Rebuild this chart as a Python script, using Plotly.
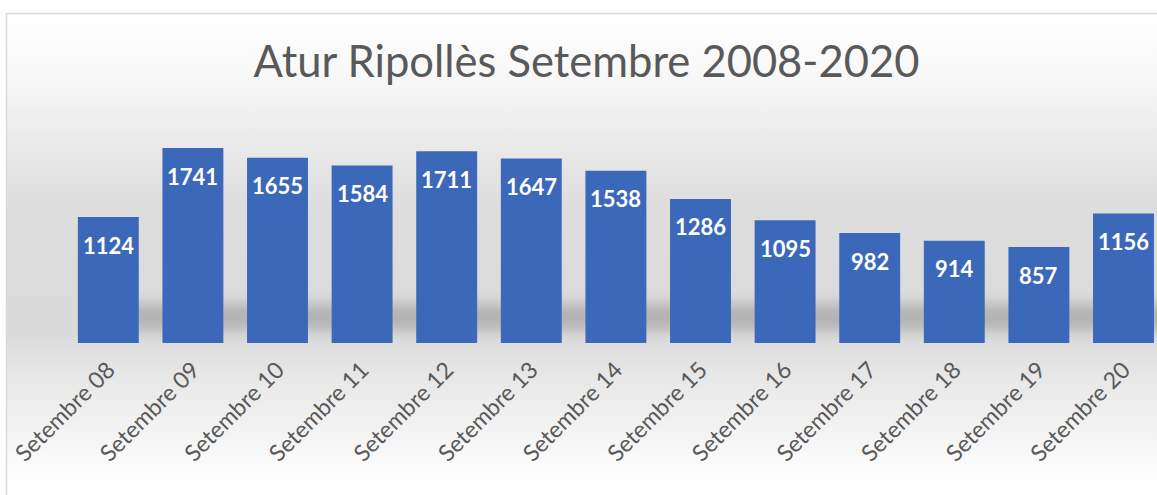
import base64
import plotly.graph_objects as go

categories = ["Setembre 08", "Setembre 09", "Setembre 10", "Setembre 11", "Setembre 12",
              "Setembre 13", "Setembre 14", "Setembre 15", "Setembre 16", "Setembre 17",
              "Setembre 18", "Setembre 19", "Setembre 20"]
values = [1124, 1741, 1655, 1584, 1711, 1647, 1538, 1286, 1095, 982, 914, 857, 1156]
title_text = "Atur Ripollès Setembre 2008-2020"

W, H = 1157, 495
ML, MR, MT, MB = 66, 0, 119, 152
PW, PH = W - ML - MR, H - MT - MB

svg = f'''<svg xmlns="http://www.w3.org/2000/svg" width="{W}" height="{H}" viewBox="0 0 {W} {H}">
<defs>
<linearGradient id="bg" x1="0" y1="13" x2="0" y2="495" gradientUnits="userSpaceOnUse">
<stop offset="0" stop-color="#ffffff"/>
<stop offset="0.14" stop-color="#f7f7f7"/>
<stop offset="0.40" stop-color="#dddddd"/>
<stop offset="0.66" stop-color="#dadada"/>
<stop offset="0.76" stop-color="#e8e8e8"/>
<stop offset="0.95" stop-color="#fcfcfc"/>
<stop offset="1" stop-color="#ffffff"/>
</linearGradient>
<filter id="blur" x="-10%" y="-200%" width="120%" height="500%"><feGaussianBlur stdDeviation="7"/></filter>
</defs>
<rect x="0" y="0" width="{W}" height="{H}" fill="#ffffff"/>
<rect x="6" y="13" width="{W}" height="{H}" fill="url(#bg)"/>
<rect x="95" y="304" width="1080" height="26" fill="#b2b2b2" filter="url(#blur)"/>
<line x1="6.5" y1="13" x2="6.5" y2="{H}" stroke="#d9d9d9" stroke-width="1.5"/>
<line x1="6" y1="13.5" x2="{W}" y2="13.5" stroke="#d9d9d9" stroke-width="1.5"/>
</svg>'''
src = "data:image/svg+xml;base64," + base64.b64encode(svg.encode()).decode()

fig = go.Figure()
fig.add_trace(go.Bar(
    x=categories, y=values,
    marker=dict(color="#3c68ba", line=dict(width=0)),
    hoverinfo="x+y",
))

for c, v in zip(categories, values):
    fig.add_annotation(x=c, y=v, text=str(v), showarrow=False,
                       yanchor="middle", yshift=-28,
                       font=dict(family="Lato", size=22, color="white", weight="bold"))

fig.add_layout_image(dict(
    source=src, xref="paper", yref="paper",
    x=-ML / PW, y=1 + MT / PH, sizex=W / PW, sizey=H / PH,
    xanchor="left", yanchor="top", sizing="stretch", layer="below",
))

fig.update_layout(
    width=W, height=H,
    margin=dict(l=ML, r=MR, t=MT, b=MB, pad=0),
    paper_bgcolor="white", plot_bgcolor="rgba(0,0,0,0)",
    title=dict(text=title_text, x=586.5 / W, xanchor="center", y=1 - 62 / H, yanchor="middle",
               xref="container", yref="container",
               font=dict(family="Lato", size=43.5, color="#595959")),
    bargap=0.28, showlegend=False,
    xaxis=dict(type="category", range=[-0.5, 12.396], tickangle=-45, showline=False,
               showgrid=False, zeroline=False, ticks="", ticklabelstandoff=8,
               tickfont=dict(family="Lato", size=23, color="#595959")),
    yaxis=dict(range=[0, 2000], visible=False),
)

fig.write_html("out.html", config={"displayModeBar": False},
               post_script="document.body.style.margin='0';document.body.style.overflow='hidden';"
                           "document.documentElement.style.overflow='hidden';")
